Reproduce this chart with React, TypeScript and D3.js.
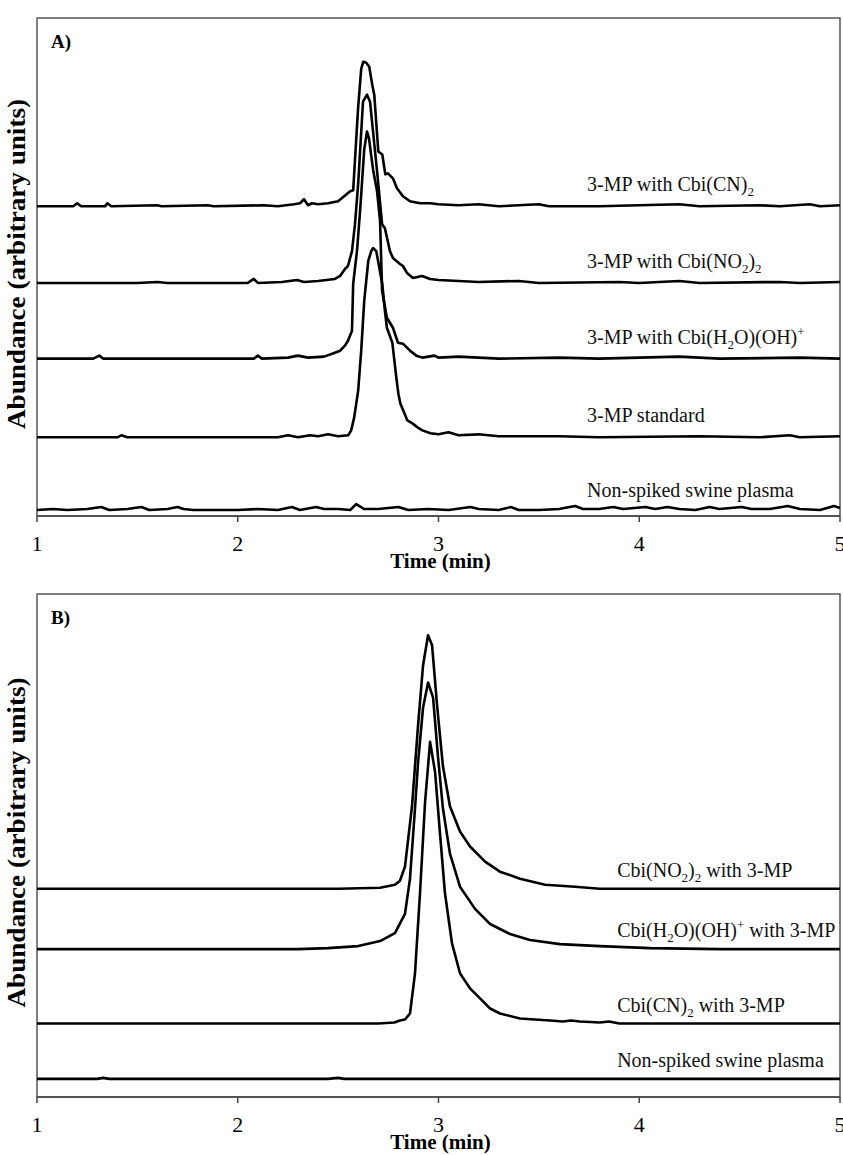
import React from "react";
import * as d3 from "d3";

// ---- data (time in min, abundance in arbitrary units) ----
const timeTicks = [1, 2, 3, 4, 5];

// panel A: 3-MP traces, offsets are the stacking baselines
const aOffsets = [311, 234, 158, 79, 4];

const aCn: [number, number][] = [
  [1.0, 0], [1.18, 0], [1.2, 3], [1.22, 0], [1.34, 0], [1.35, 3], [1.37, 0], [1.6, 1], [1.62, 0],
  [1.85, 1], [1.88, 0], [2.13, 1], [2.2, 0], [2.28, 2], [2.31, 3], [2.33, 7], [2.35, 1],
  [2.37, 3], [2.4, 2], [2.45, 3], [2.5, 5], [2.53, 10], [2.56, 15], [2.575, 16], [2.588, 60],
  [2.6, 100], [2.615, 138], [2.625, 145], [2.64, 144], [2.655, 140], [2.67, 122], [2.68, 112],
  [2.7, 55], [2.72, 52], [2.735, 32], [2.748, 33], [2.773, 28], [2.793, 18], [2.823, 10],
  [2.858, 5], [2.908, 3], [2.958, 3], [3.0, 2], [3.1, 1], [3.2, 2], [3.3, 0], [3.5, 2], [3.55, 0],
  [3.8, 0], [4.0, 1], [4.2, 2], [4.3, 0], [4.6, 1], [4.7, 0], [4.85, 2], [4.9, 0], [5.0, 1],
];

const aNo2: [number, number][] = [
  [1.0, 0], [1.5, 0], [1.6, 1], [1.65, 0], [2.05, 0], [2.08, 4], [2.1, 0], [2.22, 1], [2.295, 3],
  [2.33, 1], [2.4, 2], [2.484, 4], [2.51, 7], [2.534, 14], [2.549, 17], [2.569, 32], [2.584, 59],
  [2.6, 100], [2.624, 182], [2.644, 189], [2.659, 182], [2.674, 152], [2.694, 112], [2.719, 59],
  [2.733, 55], [2.758, 32], [2.773, 25], [2.808, 19], [2.823, 17], [2.843, 10], [2.873, 5],
  [2.918, 7], [2.958, 4], [3.0, 3], [3.1, 2], [3.2, 1], [3.4, 2], [3.5, 0], [3.9, 1], [4.0, 0],
  [4.2, 2], [4.3, 0], [4.7, 1], [4.8, 0], [5.0, 1],
];

const aH2o: [number, number][] = [
  [1.0, 0], [1.28, 0], [1.31, 3], [1.33, 0], [1.8, 0], [2.08, 0], [2.1, 3], [2.12, 0], [2.25, 1],
  [2.3, 3], [2.35, 1], [2.43, 2], [2.484, 6], [2.51, 8], [2.534, 13], [2.549, 18], [2.569, 28],
  [2.575, 75], [2.584, 91], [2.594, 108], [2.61, 150], [2.63, 210], [2.644, 228], [2.654, 221],
  [2.664, 205], [2.674, 190], [2.694, 168], [2.709, 138], [2.719, 68], [2.743, 41], [2.773, 31],
  [2.798, 16], [2.823, 15], [2.858, 8], [2.89, 3], [2.92, 1], [2.98, 3], [3.0, 1], [3.1, 2],
  [3.3, 0], [3.6, 1], [3.8, 0], [4.2, 2], [4.4, 0], [4.8, 1], [5.0, 0],
];

const aStd: [number, number][] = [
  [1.0, 0], [1.4, 0], [1.42, 2], [1.45, 0], [2.2, 0], [2.25, 2], [2.3, 0], [2.36, 2], [2.4, 1],
  [2.45, 3], [2.5, 1], [2.55, 2], [2.565, 7], [2.58, 20], [2.6, 47], [2.615, 87], [2.63, 137],
  [2.65, 177], [2.665, 187], [2.675, 190], [2.69, 187], [2.72, 154], [2.733, 127], [2.743, 110],
  [2.77, 95], [2.79, 60], [2.8, 44], [2.81, 34], [2.845, 17], [2.87, 14], [2.895, 10], [2.92, 7],
  [2.96, 4], [3.0, 3], [3.05, 5], [3.1, 2], [3.2, 3], [3.3, 1], [3.6, 1], [3.8, 0], [4.3, 1],
  [4.6, 0], [4.75, 2], [4.8, 0], [5.0, 1],
];

const aPlasma: [number, number][] = [
  [1.0, 2], [1.08, 3], [1.15, 2], [1.25, 3], [1.32, 5], [1.36, 2], [1.45, 3], [1.52, 5], [1.56, 2],
  [1.65, 3], [1.7, 5], [1.73, 3], [1.78, 2], [1.9, 2], [2.0, 2], [2.1, 3], [2.2, 2], [2.27, 5],
  [2.31, 2], [2.39, 5], [2.43, 3], [2.5, 3], [2.56, 2], [2.59, 8], [2.63, 3], [2.7, 3], [2.8, 5],
  [2.85, 2], [2.95, 3], [3.05, 2], [3.16, 5], [3.2, 3], [3.3, 2], [3.36, 5], [3.4, 2], [3.5, 2],
  [3.6, 3], [3.68, 6], [3.72, 3], [3.8, 3], [3.87, 5], [3.92, 3], [4.03, 5], [4.08, 3], [4.14, 5],
  [4.2, 3], [4.28, 2], [4.35, 5], [4.4, 3], [4.51, 5], [4.56, 3], [4.65, 3], [4.74, 6], [4.8, 3],
  [4.9, 2], [4.97, 6], [5.0, 4],
];

const aSeries = [aCn, aNo2, aH2o, aStd, aPlasma];

// labels: [text, sub/sup] segments
const aLabels = [
  [["3-MP with Cbi(CN)", ""], ["2", "sub"]],
  [["3-MP with Cbi(NO", ""], ["2", "sub"], [")", ""], ["2", "sub"]],
  [["3-MP with Cbi(H", ""], ["2", "sub"], ["O)(OH)", ""], ["+", "sup"]],
  [["3-MP standard", ""]],
  [["Non-spiked swine plasma", ""]],
];
const aLabelTime = 3.74;

// panel B: cobinamide traces
const bOffsets = [207, 147, 73, 18];

const bNo2: [number, number][] = [
  [1.0, 0], [2.0, 0], [2.5, 0], [2.709, 1], [2.783, 4], [2.808, 8], [2.833, 22], [2.868, 82],
  [2.898, 162], [2.923, 222], [2.948, 252], [2.968, 242], [2.993, 182], [3.022, 122],
  [3.057, 82], [3.107, 57], [3.157, 42], [3.232, 27], [3.306, 17], [3.406, 10], [3.531, 4],
  [3.68, 2], [3.804, 0], [5.0, 0],
];

const bH2o: [number, number][] = [
  [1.0, 0], [2.3, 0], [2.45, 1], [2.6, 3], [2.709, 8], [2.783, 16], [2.833, 35], [2.858, 70],
  [2.883, 140], [2.898, 185], [2.923, 240], [2.948, 265], [2.973, 250], [2.998, 190],
  [3.022, 140], [3.057, 95], [3.107, 62], [3.182, 40], [3.257, 25], [3.356, 15], [3.456, 9],
  [3.605, 5], [3.804, 3], [4.053, 1], [4.4, 0], [5.0, 0],
];

const bCn: [number, number][] = [
  [1.0, 0], [2.7, 0], [2.78, 1], [2.808, 3], [2.833, 4], [2.858, 10], [2.883, 50], [2.908, 130],
  [2.933, 220], [2.958, 280], [2.983, 250], [3.007, 190], [3.032, 130], [3.067, 80], [3.107, 50],
  [3.157, 35], [3.207, 25], [3.257, 15], [3.306, 10], [3.406, 5], [3.555, 3], [3.62, 2],
  [3.66, 3], [3.705, 2], [3.804, 1], [3.85, 2], [3.9, 0], [5.0, 0],
];

const bPlasma: [number, number][] = [
  [1.0, 0], [1.3, 0], [1.33, 1], [1.36, 0], [2.45, 0], [2.5, 1], [2.53, 0], [5.0, 0],
];

const bSeries = [bNo2, bH2o, bCn, bPlasma];

const bLabels = [
  [["Cbi(NO", ""], ["2", "sub"], [")", ""], ["2", "sub"], [" with 3-MP", ""]],
  [["Cbi(H", ""], ["2", "sub"], ["O)(OH)", ""], ["+", "sup"], [" with 3-MP", ""]],
  [["Cbi(CN)", ""], ["2", "sub"], [" with 3-MP", ""]],
  [["Non-spiked swine plasma", ""]],
];
const bLabelTime = 3.89;

// ---- layout ----
const W = 843;
const H = 1155;
const left = 37;
const right = 840;
const serif = "'Liberation Serif', 'Times New Roman', serif";

function Label({ x, y, parts }: { x: number; y: number; parts: string[][] }) {
  let shift = 0;
  return (
    <text x={x} y={y} fontSize={20} fontFamily={serif} fill="#111">
      {parts.map(([t, kind], i) => {
        const target = kind === "sub" ? 5 : kind === "sup" ? -8 : 0;
        const dy = target - shift;
        shift = target;
        return (
          <tspan key={i} dy={dy} fontSize={kind ? 13 : 20}>
            {t}
          </tspan>
        );
      })}
    </text>
  );
}

function Panel({ top, bottom, tag, series, offsets, labels, labelTime, lift }: any) {
  const x = d3.scaleLinear().domain([1, 5]).range([left, right]);
  const y = d3.scaleLinear().domain([0, 500]).range([bottom, top]);

  return (
    <g>
      <rect x={left} y={top} width={right - left} height={bottom - top} fill="none" stroke="#555" strokeWidth={1.5} />
      <text x={51} y={top + 30} fontSize={19} fontWeight="bold" fontFamily={serif}>{tag}</text>
      {series.map((s: [number, number][], i: number) => {
        const line = d3
          .line<[number, number]>()
          .x((d) => x(d[0]))
          .y((d) => y(d[1] + offsets[i]));
        return <path key={i} d={line(s) || ""} fill="none" stroke="#000" strokeWidth={2.6} strokeLinejoin="round" />;
      })}
      {labels.map((parts: string[][], i: number) => (
        <Label key={i} x={x(labelTime)} y={y(offsets[i]) - lift} parts={parts} />
      ))}
      <line x1={left} x2={right} y1={bottom} y2={bottom} stroke="#444" strokeWidth={1.5} />
      {timeTicks.map((t) => (
        <g key={t}>
          <line x1={x(t)} x2={x(t)} y1={bottom} y2={bottom + 6} stroke="#444" strokeWidth={1.5} />
          <text x={x(t)} y={bottom + 35} textAnchor="middle" fontSize={22} fontFamily={serif}>{t}</text>
        </g>
      ))}
      <text x={(left + right) / 2 + 2} y={bottom + 52} textAnchor="middle" fontSize={21} fontWeight="bold" fontFamily={serif}>
        Time (min)
      </text>
      <text
        transform={`translate(25,${(top + bottom) / 2 - 3}) rotate(-90)`}
        textAnchor="middle"
        fontSize={26}
        fontWeight="bold"
        fontFamily={serif}
        textLength={330}
        lengthAdjust="spacingAndGlyphs"
      >
        Abundance (arbitrary units)
      </text>
    </g>
  );
}

export default function App() {
  return (
    <svg width={W} height={H} style={{ position: "absolute", left: 0, top: 0, background: "#fff" }}>
      <Panel top={18} bottom={516} tag="A)" series={aSeries} offsets={aOffsets} labels={aLabels} labelTime={aLabelTime} lift={15} />
      <Panel top={594} bottom={1097} tag="B)" series={bSeries} offsets={bOffsets} labels={bLabels} labelTime={bLabelTime} lift={12} />
    </svg>
  );
}
